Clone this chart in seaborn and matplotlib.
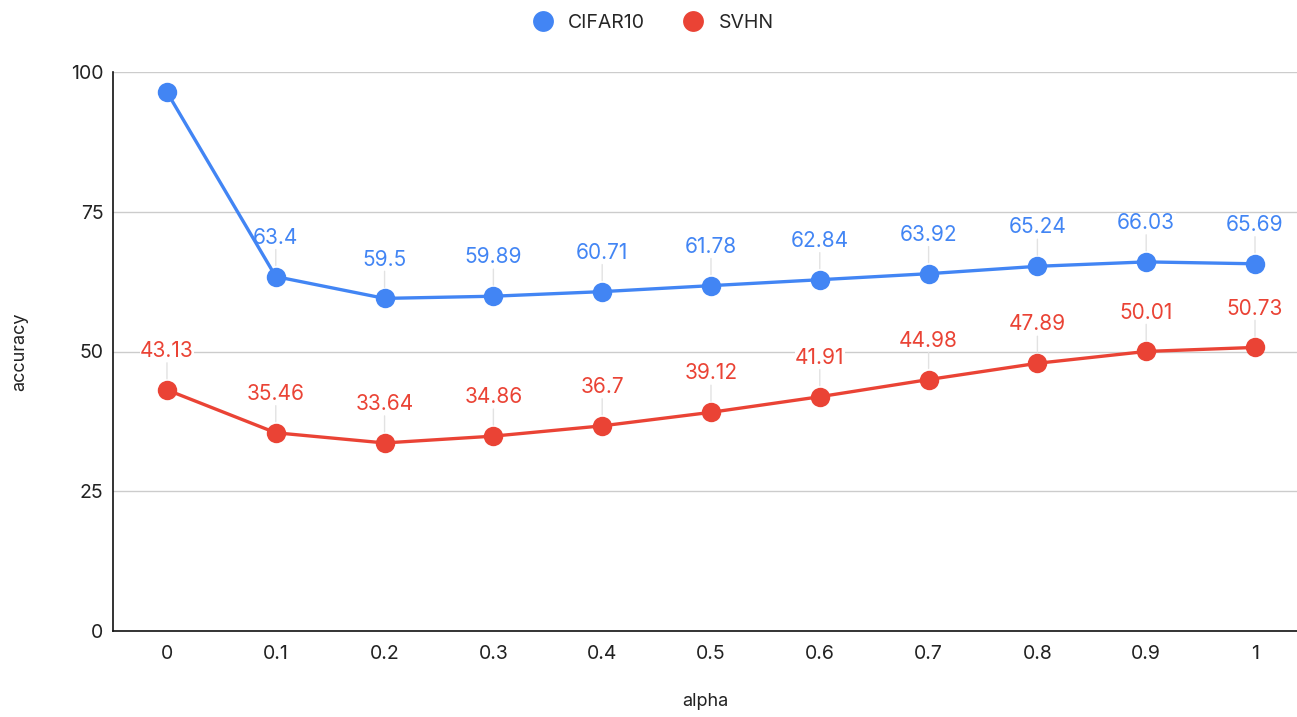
import matplotlib
matplotlib.use("Agg")
import matplotlib.pyplot as plt
import seaborn as sns
import pandas as pd

alpha = [0, 0.1, 0.2, 0.3, 0.4, 0.5, 0.6, 0.7, 0.8, 0.9, 1]
alpha_labels = ["0", "0.1", "0.2", "0.3", "0.4", "0.5", "0.6", "0.7", "0.8", "0.9", "1"]
cifar10 = [96.4, 63.4, 59.5, 59.89, 60.71, 61.78, 62.84, 63.92, 65.24, 66.03, 65.69]
svhn = [43.13, 35.46, 33.64, 34.86, 36.7, 39.12, 41.91, 44.98, 47.89, 50.01, 50.73]
cifar10_labels = [None, "63.4", "59.5", "59.89", "60.71", "61.78", "62.84", "63.92", "65.24", "66.03", "65.69"]
svhn_labels = ["43.13", "35.46", "33.64", "34.86", "36.7", "39.12", "41.91", "44.98", "47.89", "50.01", "50.73"]
y_ticks = [0, 25, 50, 75, 100]

colors = {"CIFAR10": "#4285F4", "SVHN": "#EA4335"}

df = pd.concat([
    pd.DataFrame({"alpha": alpha, "accuracy": cifar10, "dataset": "CIFAR10"}),
    pd.DataFrame({"alpha": alpha, "accuracy": svhn, "dataset": "SVHN"}),
])

sns.set_style("white")
plt.rcParams["font.family"] = ["Inter", "DejaVu Sans"]

fig = plt.figure(figsize=(12.97, 7.17), dpi=100)
ax = fig.add_axes([113 / 1297, 1 - 631 / 717, (1297 - 113) / 1297, (631 - 72) / 717])

sns.lineplot(data=df, x="alpha", y="accuracy", hue="dataset", palette=colors,
             marker="o", markersize=14, markeredgewidth=0, linewidth=2.4,
             ax=ax, legend=False, zorder=3)

ax.set_xlim(-0.0496, 1.0386)
ax.set_ylim(0, 100)
ax.set_yticks(y_ticks)
ax.set_xticks(alpha)
ax.set_xticklabels(alpha_labels)
ax.tick_params(axis="both", length=0, labelsize=14, colors="#222222")
ax.tick_params(axis="x", pad=10)
ax.tick_params(axis="y", pad=7)
ax.grid(axis="y", color="#cccccc", linewidth=1)
for side in ["top", "right"]:
    ax.spines[side].set_visible(False)
for side in ["left", "bottom"]:
    ax.spines[side].set_color("#111111")
    ax.spines[side].set_linewidth(1.2)

ax.set_xlabel("alpha", fontsize=13, color="#222222", labelpad=22)
ax.set_ylabel("accuracy", fontsize=13, color="#222222")
ax.yaxis.set_label_coords(-85 / 1184, 0.5)

def label_series(values, labels, color):
    for x, y, t in zip(alpha, values, labels):
        if t is None:
            continue
        ax.annotate(t, xy=(x, y), xytext=(0, 28), textcoords="offset points",
                    ha="center", va="center", fontsize=15, color=color,
                    bbox=dict(boxstyle="square,pad=0.02", fc="white", ec="none"),
                    arrowprops=dict(arrowstyle="-", color="#e2e2e2", lw=1,
                                    shrinkA=1, shrinkB=8),
                    zorder=2)

label_series(cifar10, cifar10_labels, colors["CIFAR10"])
label_series(svhn, svhn_labels, colors["SVHN"])

handles = [plt.Line2D([], [], marker="o", linestyle="none", markersize=15,
                      markerfacecolor=colors[k], markeredgewidth=0, label=k)
           for k in ["CIFAR10", "SVHN"]]
fig.legend(handles=handles, loc="upper center", bbox_to_anchor=(0.5, 1.005), ncol=2,
           frameon=False, fontsize=14, handletextpad=0.3, columnspacing=1.5)

fig.savefig("out.png", dpi=100)
